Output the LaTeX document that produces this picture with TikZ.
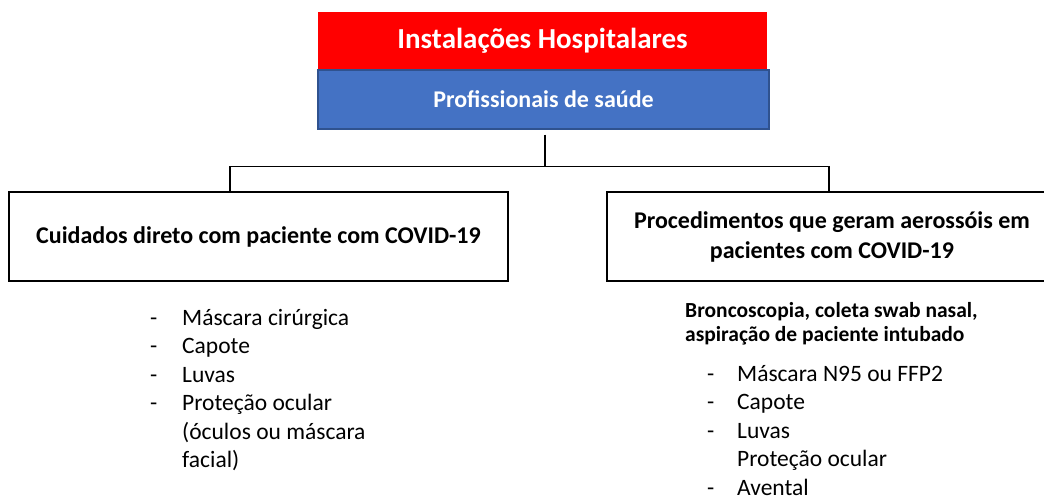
\documentclass[tikz,border=0pt]{standalone}
\usepackage{fontspec}
\setmainfont{Carlito}
\definecolor{blue1}{HTML}{4472C4}
\definecolor{blueb}{HTML}{2F528F}
\begin{document}
\begin{tikzpicture}[x=1pt,y=-1pt,
  box/.style={draw=black,line width=1.6pt,inner sep=0pt,align=center,
    minimum height=89pt,font=\fontsize{24}{30}\selectfont\bfseries},
  conn/.style={line width=1.5pt},
  list/.style={anchor=base west,inner sep=0pt,align=left,font=\fontsize{23.5}{28.5}\selectfont},
  hdr/.style={anchor=base west,inner sep=0pt,align=left,font=\fontsize{21.5}{24.5}\selectfont\bfseries}]
\clip (0,0) rectangle (1044,497);
\useasboundingbox (0,0) rectangle (1044,497);
\fill[white] (0,0) rectangle (1044,497);
% header boxes
\node[fill=red,minimum width=449pt,minimum height=58pt,inner sep=0pt,text=white,
  font=\fontsize{29}{30}\selectfont\bfseries] (inst) at (542.5,41) {Instalações Hospitalares};
\node[fill=blue1,draw=blueb,line width=1.2pt,minimum width=451pt,minimum height=59pt,inner sep=0pt,
  text=white,font=\fontsize{24}{30}\selectfont\bfseries] (prof) at (543.5,99.5) {Profissionais de saúde};
% category boxes
\node[box,minimum width=499pt] (cuid) at (258.5,236.5) {Cuidados direto com paciente com COVID-19};
\node[box,minimum width=450pt] (proc) at (832,236.5) {Procedimentos que geram aerossóis em\\pacientes com COVID-19};
% connectors
\coordinate (top) at ([xshift=1.5pt,yshift=-5pt]prof.south);
\coordinate (bar) at ([yshift=-32pt]top);
\draw[conn] (top) -- (bar);
\draw[conn] ([xshift=-28.5pt]cuid.north) |- (bar) -| ([xshift=-3pt]proc.north);
% left list (base anchor = baseline of the last line)
\node[list] (ld) at (150,410.5) {-\\-\\-\\-};
\node[list] (lt) at (182,467.5) {Máscara cirúrgica\\Capote\\Luvas\\Proteção ocular\\(óculos ou máscara\\facial)};
% right list
\node[hdr] (rh) at (685,341.5) {Broncoscopia, coleta swab nasal,\\aspiração de paciente intubado};
\node[list] (rd) at (707,495) {-\\-\\-\\\mbox{}\\-};
\node[list] (rt) at (737,495) {Máscara N95 ou FFP2\\Capote\\Luvas\\Proteção ocular\\Avental};
\end{tikzpicture}
\end{document}
